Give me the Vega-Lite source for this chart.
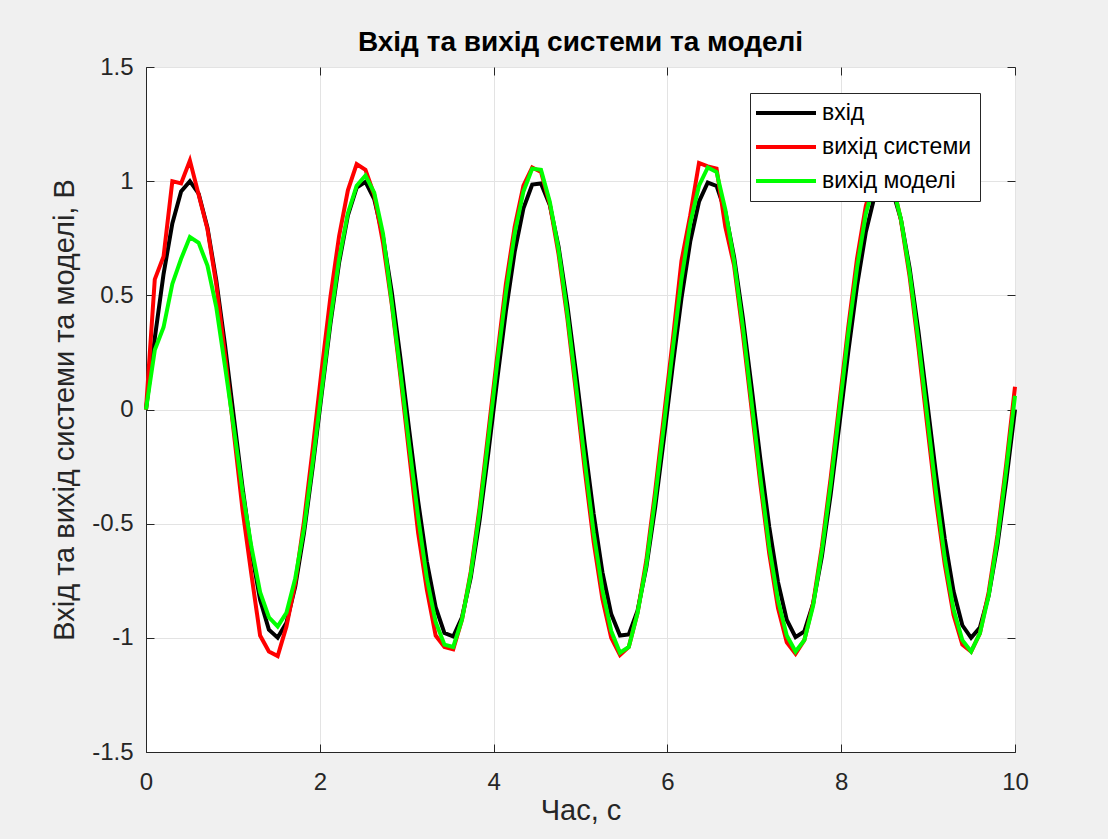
{
  "$schema": "https://vega.github.io/schema/vega-lite/v6.json",
  "autosize": {"type": "none"},
  "width": 869,
  "height": 685,
  "padding": {"left": 146, "top": 67, "right": 93, "bottom": 87},
  "background": "#f0f0f0",
  "title": {"text": "Вхід та вихід системи та моделі", "fontSize": 28, "fontWeight": "bold", "font": "Liberation Sans", "color": "#000000", "frame": "group", "anchor": "middle", "offset": -2},
  "config": {
    "view": {"fill": "white", "stroke": "#262626", "strokeWidth": 1},
    "axis": {"domainColor": "#262626", "tickColor": "#262626", "labelColor": "#262626", "titleColor": "#262626", "labelFont": "Liberation Sans", "titleFont": "Liberation Sans", "gridColor": "#e3e3e3", "labelFontSize": 24, "titleFontSize": 29, "titleFontWeight": "normal", "labelFlush": false}
  },
  "data": {"values": [
    {"t":0,"i":0,"s":0,"m":0},
    {"t":0.101,"i":0.312,"s":0.57,"m":0.26},
    {"t":0.202,"i":0.593,"s":0.67,"m":0.36},
    {"t":0.303,"i":0.815,"s":1.0,"m":0.55},
    {"t":0.404,"i":0.955,"s":0.99,"m":0.66},
    {"t":0.5051,"i":1.0,"s":1.09,"m":0.755},
    {"t":0.6061,"i":0.945,"s":0.94,"m":0.73},
    {"t":0.7071,"i":0.796,"s":0.79,"m":0.63},
    {"t":0.8081,"i":0.567,"s":0.55,"m":0.45},
    {"t":0.9091,"i":0.282,"s":0.24,"m":0.19},
    {"t":1.0101,"i":-0.032,"s":-0.1,"m":-0.08},
    {"t":1.1111,"i":-0.342,"s":-0.44,"m":-0.36},
    {"t":1.2121,"i":-0.618,"s":-0.72,"m":-0.6},
    {"t":1.3131,"i":-0.833,"s":-0.99,"m":-0.8},
    {"t":1.4141,"i":-0.964,"s":-1.06,"m":-0.91},
    {"t":1.5152,"i":-0.999,"s":-1.08,"m":-0.95},
    {"t":1.6162,"i":-0.934,"s":-0.95,"m":-0.89},
    {"t":1.7172,"i":-0.776,"s":-0.76,"m":-0.74},
    {"t":1.8182,"i":-0.541,"s":-0.49,"m":-0.52},
    {"t":1.9192,"i":-0.251,"s":-0.17,"m":-0.23},
    {"t":2.0202,"i":0.063,"s":0.17,"m":0.08},
    {"t":2.1212,"i":0.372,"s":0.49,"m":0.39},
    {"t":2.2222,"i":0.643,"s":0.76,"m":0.66},
    {"t":2.3232,"i":0.85,"s":0.96,"m":0.86},
    {"t":2.4242,"i":0.972,"s":1.075,"m":0.98},
    {"t":2.5253,"i":0.997,"s":1.05,"m":1.025},
    {"t":2.6263,"i":0.922,"s":0.94,"m":0.95},
    {"t":2.7273,"i":0.756,"s":0.73,"m":0.77},
    {"t":2.8283,"i":0.514,"s":0.46,"m":0.47},
    {"t":2.9293,"i":0.22,"s":0.14,"m":0.16},
    {"t":3.0303,"i":-0.095,"s":-0.2,"m":-0.16},
    {"t":3.1313,"i":-0.401,"s":-0.54,"m":-0.47},
    {"t":3.2323,"i":-0.667,"s":-0.79,"m":-0.74},
    {"t":3.3333,"i":-0.866,"s":-0.99,"m":-0.93},
    {"t":3.4343,"i":-0.979,"s":-1.04,"m":-1.03},
    {"t":3.5354,"i":-0.994,"s":-1.05,"m":-1.04},
    {"t":3.6364,"i":-0.91,"s":-0.92,"m":-0.92},
    {"t":3.7374,"i":-0.735,"s":-0.71,"m":-0.72},
    {"t":3.8384,"i":-0.486,"s":-0.43,"m":-0.45},
    {"t":3.9394,"i":-0.189,"s":-0.1,"m":-0.13},
    {"t":4.0404,"i":0.127,"s":0.23,"m":0.2},
    {"t":4.1414,"i":0.43,"s":0.55,"m":0.51},
    {"t":4.2424,"i":0.69,"s":0.8,"m":0.77},
    {"t":4.3434,"i":0.881,"s":0.98,"m":0.955},
    {"t":4.4444,"i":0.985,"s":1.06,"m":1.055},
    {"t":4.5455,"i":0.99,"s":1.04,"m":1.05},
    {"t":4.6465,"i":0.896,"s":0.9,"m":0.91},
    {"t":4.7475,"i":0.713,"s":0.68,"m":0.7},
    {"t":4.8485,"i":0.458,"s":0.4,"m":0.42},
    {"t":4.9495,"i":0.158,"s":0.07,"m":0.1},
    {"t":5.0505,"i":-0.158,"s":-0.27,"m":-0.23},
    {"t":5.1515,"i":-0.458,"s":-0.58,"m":-0.54},
    {"t":5.2525,"i":-0.713,"s":-0.83,"m":-0.79},
    {"t":5.3535,"i":-0.896,"s":-1.0,"m":-0.97},
    {"t":5.4545,"i":-0.99,"s":-1.075,"m":-1.065},
    {"t":5.5556,"i":-0.985,"s":-1.04,"m":-1.04},
    {"t":5.6566,"i":-0.881,"s":-0.89,"m":-0.89},
    {"t":5.7576,"i":-0.69,"s":-0.66,"m":-0.68},
    {"t":5.8586,"i":-0.43,"s":-0.36,"m":-0.39},
    {"t":5.9596,"i":-0.127,"s":-0.03,"m":-0.07},
    {"t":6.0606,"i":0.189,"s":0.3,"m":0.26},
    {"t":6.1616,"i":0.486,"s":0.65,"m":0.57},
    {"t":6.2626,"i":0.735,"s":0.85,"m":0.815},
    {"t":6.3636,"i":0.91,"s":1.08,"m":0.98},
    {"t":6.4646,"i":0.994,"s":1.065,"m":1.06},
    {"t":6.5657,"i":0.979,"s":1.055,"m":1.04},
    {"t":6.6667,"i":0.866,"s":0.8,"m":0.875},
    {"t":6.7677,"i":0.667,"s":0.63,"m":0.65},
    {"t":6.8687,"i":0.401,"s":0.33,"m":0.36},
    {"t":6.9697,"i":0.095,"s":0.0,"m":0.03},
    {"t":7.0707,"i":-0.22,"s":-0.33,"m":-0.3},
    {"t":7.1717,"i":-0.514,"s":-0.63,"m":-0.6},
    {"t":7.2727,"i":-0.756,"s":-0.87,"m":-0.835},
    {"t":7.3737,"i":-0.922,"s":-1.02,"m":-0.99},
    {"t":7.4747,"i":-0.997,"s":-1.07,"m":-1.06},
    {"t":7.5758,"i":-0.972,"s":-1.01,"m":-1.01},
    {"t":7.6768,"i":-0.85,"s":-0.85,"m":-0.86},
    {"t":7.7778,"i":-0.643,"s":-0.6,"m":-0.62},
    {"t":7.8788,"i":-0.372,"s":-0.3,"m":-0.33},
    {"t":7.9798,"i":-0.063,"s":0.03,"m":0.0},
    {"t":8.0808,"i":0.251,"s":0.36,"m":0.33},
    {"t":8.1818,"i":0.541,"s":0.66,"m":0.62},
    {"t":8.2828,"i":0.776,"s":0.89,"m":0.855},
    {"t":8.3838,"i":0.934,"s":1.03,"m":1.0},
    {"t":8.4848,"i":0.999,"s":1.06,"m":1.05},
    {"t":8.5859,"i":0.964,"s":1.0,"m":0.99},
    {"t":8.6869,"i":0.833,"s":0.83,"m":0.835},
    {"t":8.7879,"i":0.618,"s":0.58,"m":0.6},
    {"t":8.8889,"i":0.342,"s":0.27,"m":0.3},
    {"t":8.9899,"i":0.032,"s":-0.07,"m":-0.03},
    {"t":9.0909,"i":-0.282,"s":-0.4,"m":-0.36},
    {"t":9.1919,"i":-0.567,"s":-0.68,"m":-0.65},
    {"t":9.2929,"i":-0.796,"s":-0.9,"m":-0.875},
    {"t":9.3939,"i":-0.945,"s":-1.03,"m":-1.01},
    {"t":9.4949,"i":-1.0,"s":-1.06,"m":-1.06},
    {"t":9.596,"i":-0.955,"s":-0.98,"m":-0.98},
    {"t":9.697,"i":-0.815,"s":-0.8,"m":-0.815},
    {"t":9.798,"i":-0.593,"s":-0.55,"m":-0.57},
    {"t":9.899,"i":-0.312,"s":-0.24,"m":-0.265},
    {"t":10,"i":0.0,"s":0.1,"m":0.06}
  ]},
  "transform": [{"fold": ["i", "s", "m"], "as": ["series", "v"]}],
  "resolve": {"axis": {"x": "independent", "y": "independent"}},
  "layer": [
    {
      "transform": [{"filter": "datum.series == 'i'"}],
      "mark": {"type": "line", "strokeWidth": 4},
      "encoding": {
        "x": {"field": "t", "type": "quantitative", "scale": {"domain": [0, 10], "nice": false, "zero": false},
              "axis": {"orient": "bottom", "values": [0, 2, 4, 6, 8, 10], "grid": true, "ticks": false, "labelPadding": 18, "title": "Час, с", "titlePadding": 2}},
        "y": {"field": "v", "type": "quantitative", "scale": {"domain": [-1.5, 1.5], "nice": false, "zero": false},
              "axis": {"orient": "left", "values": [-1.5, -1, -0.5, 0, 0.5, 1, 1.5], "labelExpr": "datum.value + ''", "grid": true, "ticks": false, "labelPadding": 13, "title": "Вхід та вихід системи та моделі, В", "titlePadding": 12}},
        "color": {"field": "series", "type": "nominal",
                  "scale": {"domain": ["i", "s", "m"], "range": ["#000000", "#ff0000", "#00ff00"]},
                  "legend": {"orient": "none", "legendX": 604, "legendY": 26, "title": null, "symbolType": "M-3,0H3", "symbolSize": 400, "symbolStrokeWidth": 4, "symbolOffset": 16, "labelOffset": 24, "labelFontSize": 23, "labelFont": "Liberation Sans", "labelColor": "#000000", "fillColor": "white", "strokeColor": "#262626", "padding": 8, "rowPadding": 10, "labelExpr": "datum.label == 'i' ? 'вхід' : datum.label == 's' ? 'вихід системи' : 'вихід моделі'"}}
      }
    },
    {
      "transform": [{"filter": "datum.series == 's'"}],
      "mark": {"type": "line", "strokeWidth": 4},
      "encoding": {
        "x": {"field": "t", "type": "quantitative", "axis": {"orient": "top", "values": [0, 2, 4, 6, 8, 10], "labels": false, "title": null, "grid": false, "domain": false, "offset": -8, "tickSize": 8}},
        "y": {"field": "v", "type": "quantitative", "axis": {"orient": "right", "values": [-1.5, -1, -0.5, 0, 0.5, 1, 1.5], "labels": false, "title": null, "grid": false, "domain": false, "offset": -8, "tickSize": 8}},
        "color": {"field": "series", "type": "nominal"}
      }
    },
    {
      "transform": [{"filter": "datum.series == 'm'"}],
      "mark": {"type": "line", "strokeWidth": 4},
      "encoding": {
        "x": {"field": "t", "type": "quantitative", "axis": {"orient": "bottom", "values": [0, 2, 4, 6, 8, 10], "labels": false, "title": null, "grid": false, "domain": false, "offset": -8, "tickSize": 8}},
        "y": {"field": "v", "type": "quantitative", "axis": {"orient": "left", "values": [-1.5, -1, -0.5, 0, 0.5, 1, 1.5], "labels": false, "title": null, "grid": false, "domain": false, "offset": -8, "tickSize": 8}},
        "color": {"field": "series", "type": "nominal"}
      }
    }
  ]
}
